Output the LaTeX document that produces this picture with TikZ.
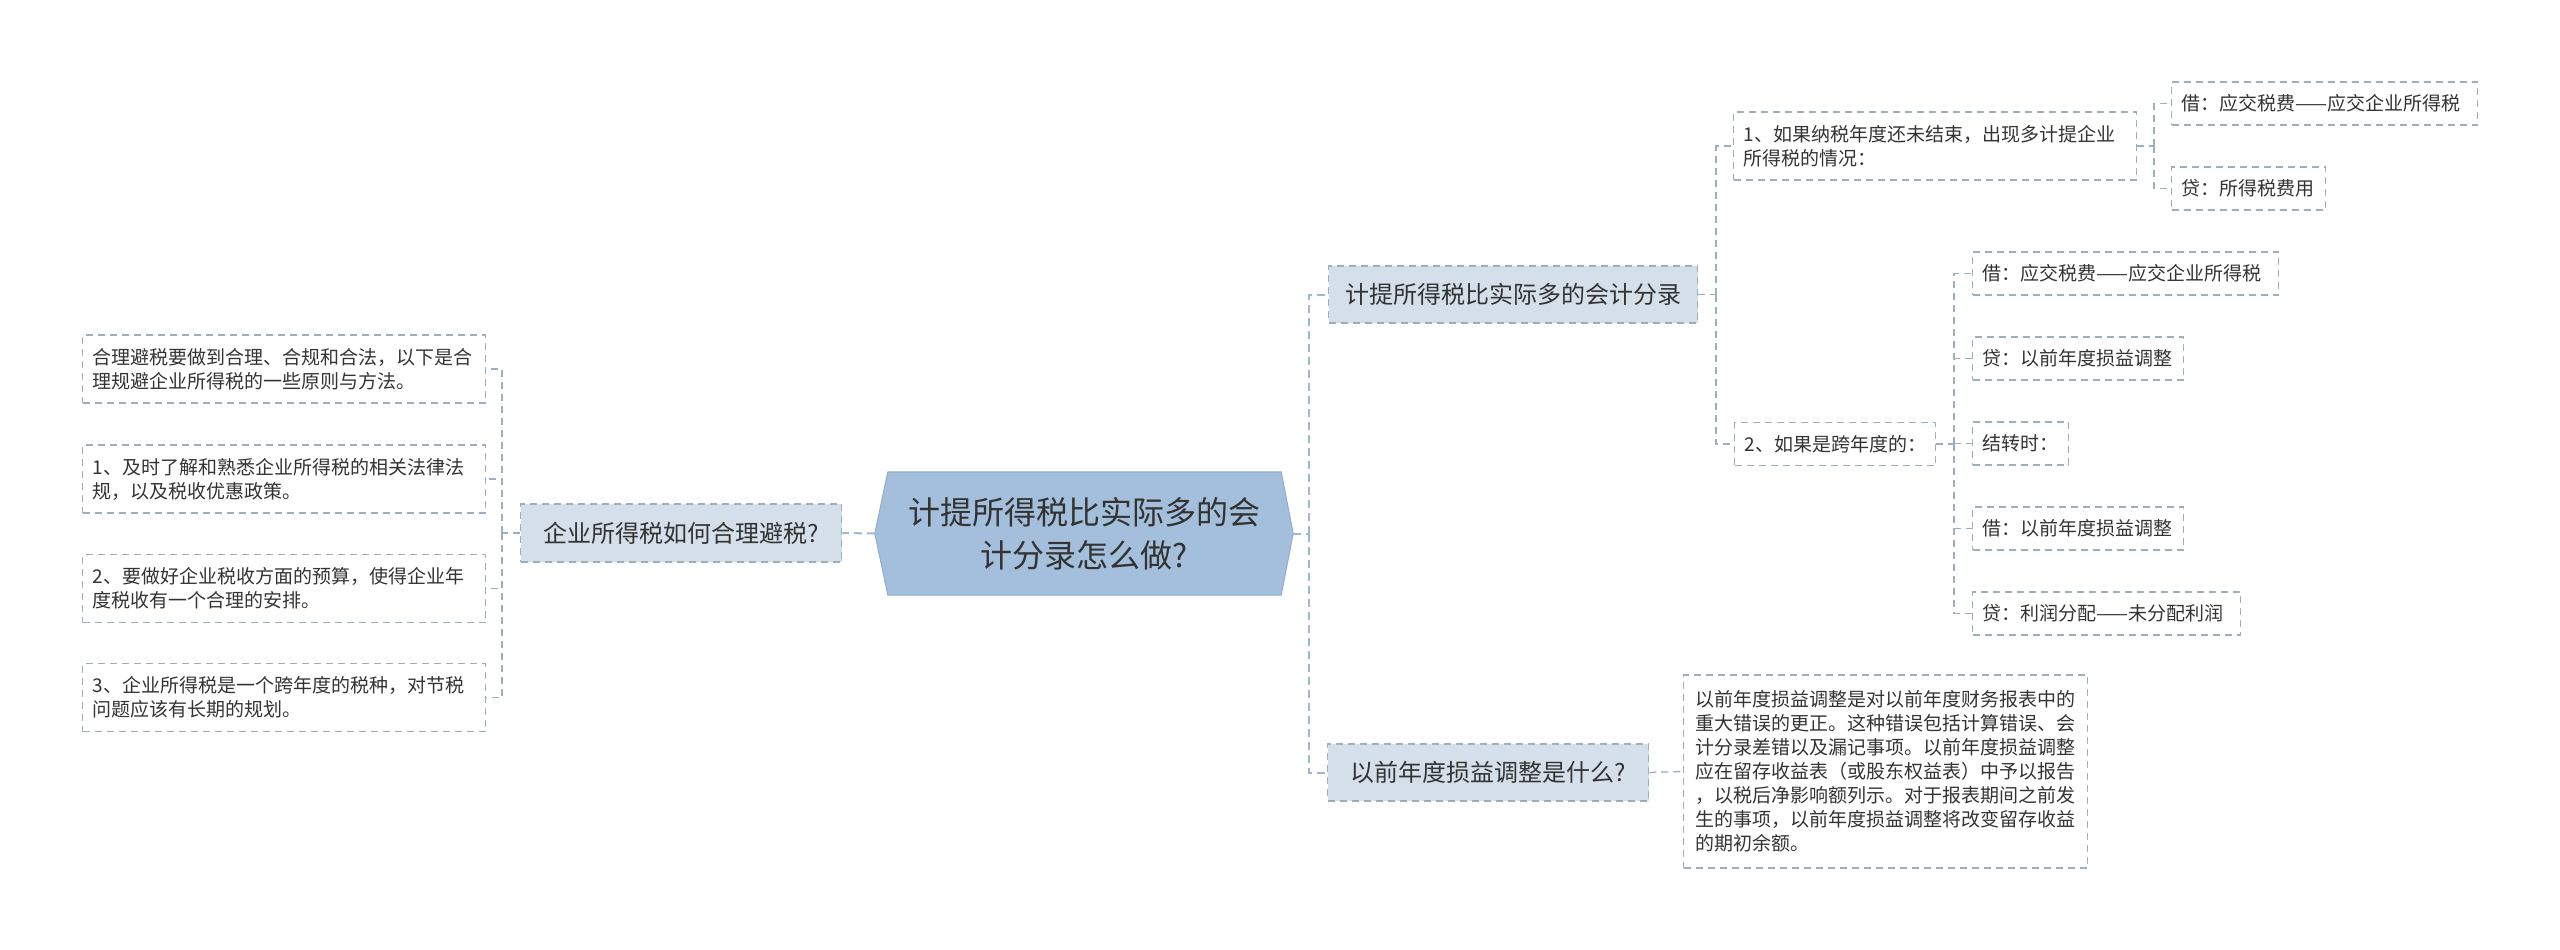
\documentclass[tikz,border=0pt]{standalone}
\usepackage{fontspec}
\newfontfamily\cjk{Noto Sans CJK SC}
\usetikzlibrary{calc,backgrounds}
\definecolor{rootfill}{HTML}{A3BFDB}
\definecolor{rootline}{HTML}{8FAECE}
\definecolor{brfill}{HTML}{D4DFEA}
\definecolor{bordc}{HTML}{9DAEBF}
\definecolor{maincol}{HTML}{9DB8D5}
\definecolor{txtc}{HTML}{333333}
\tikzset{
  leaf/.style={draw=bordc, dash pattern=on 7pt off 5pt, line width=1.3pt,
    font=\cjk\fontsize{19}{24}\selectfont, text=txtc, anchor=west,
    inner xsep=10pt, inner ysep=0pt, minimum height=43pt, align=left},
  branch/.style={draw=bordc, fill=brfill, dash pattern=on 7pt off 5pt, line width=1.3pt,
    font=\cjk\fontsize{24}{30}\selectfont, text=txtc, anchor=west,
    inner sep=0pt, minimum height=57pt, align=center},
  conn/.style={draw=bordc, dash pattern=on 7pt off 5pt, line width=1.3pt},
  mainconn/.style={draw=maincol, dash pattern=on 8pt off 5pt, line width=2pt}
}
\begin{document}
\begin{tikzpicture}[x=1pt,y=-1pt]
\useasboundingbox (0,0) rectangle (2560,950);
% root
\node[font=\cjk\fontsize{32}{43}\selectfont, text=txtc, minimum width=418pt, minimum height=123pt, inner sep=0pt, align=center] (root) at (1084,533.5) {计提所得税比实际多的会\\计分录怎么做?};
\begin{scope}[on background layer]
\fill[rootfill, draw=rootline, line width=1pt] (root.west) -- ($(root.north west)+(13,0)$) -- ($(root.north east)+(-12,0)$) -- (root.east) -- ($(root.south east)+(-12,0)$) -- ($(root.south west)+(13,0)$) -- cycle;
\end{scope}
% left
\node[branch, minimum width=321pt, minimum height=58pt] (lb) at (520,533) {企业所得税如何合理避税?};
\node[leaf, text width=383pt, minimum height=68pt] (la) at (82,369) {合理避税要做到合理、合规和合法，以下是合\\理规避企业所得税的一些原则与方法。};
\node[leaf, text width=383pt, minimum height=68pt] (lbb) at (82,479) {1、及时了解和熟悉企业所得税的相关法律法\\规，以及税收优惠政策。};
\node[leaf, text width=383pt, minimum height=68pt] (lc) at (82,588.5) {2、要做好企业税收方面的预算，使得企业年\\度税收有一个合理的安排。};
\node[leaf, text width=383pt, minimum height=68pt] (ld) at (82,697.5) {3、企业所得税是一个跨年度的税种，对节税\\问题应该有长期的规划。};
% right branches
\node[branch, minimum width=369pt] (b1) at (1328,294.5) {计提所得税比实际多的会计分录};
\node[branch, minimum width=321pt] (b2) at (1327,772.5) {以前年度损益调整是什么?};
\node[leaf, text width=380pt, inner xsep=12pt, minimum height=193pt] (t2) at (1683,771.5) {以前年度损益调整是对以前年度财务报表中的\\重大错误的更正。这种错误包括计算错误、会\\计分录差错以及漏记事项。以前年度损益调整\\应在留存收益表（或股东权益表）中予以报告\\，以税后净影响额列示。对于报表期间之前发\\生的事项，以前年度损益调整将改变留存收益\\的期初余额。};
\node[leaf, text width=383pt, minimum height=68pt] (n1) at (1733,146) {1、如果纳税年度还未结束，出现多计提企业\\所得税的情况：};
\node[leaf, text width=181pt] (n2) at (1734,444) {2、如果是跨年度的：};
\node[leaf, text width=286pt] (l1a) at (2171,103.5) {借：应交税费——应交企业所得税};
\node[leaf, text width=134pt] (l1b) at (2171,188.5) {贷：所得税费用};
\node[leaf, text width=286pt] (l2a) at (1972,273.5) {借：应交税费——应交企业所得税};
\node[leaf, text width=191pt] (l2b) at (1972,358.5) {贷：以前年度损益调整};
\node[leaf, text width=76pt] (l2c) at (1972,443.5) {结转时：};
\node[leaf, text width=191pt] (l2d) at (1972,528.5) {借：以前年度损益调整};
\node[leaf, text width=248pt] (l2e) at (1972,613.5) {贷：利润分配——未分配利润};
% connectors left
\draw[mainconn] (root.west) -- (lb.east);
\coordinate (ls) at (502,533);
\draw[conn] (lb.west) -- (ls);
\draw[conn] (ls) |- (la.east);
\draw[conn] (ls) |- (lbb.east);
\draw[conn] (ls) |- (lc.east);
\draw[conn] (ls) |- (ld.east);
% connectors right
\coordinate (rs) at (1309,533.5);
\draw[mainconn] (root.east) -- (rs);
\draw[mainconn] (rs) |- (b1.west);
\draw[mainconn] (rs) |- (b2.west);
\draw[conn] (b2.east) -- (t2.west);
\coordinate (s1) at (1716,294.5);
\draw[conn] (b1.east) -- (s1);
\draw[conn] (s1) |- (n1.west);
\draw[conn] (s1) |- (n2.west);
\coordinate (s11) at (2154,146);
\draw[conn] (n1.east) -- (s11);
\draw[conn] (s11) |- (l1a.west);
\draw[conn] (s11) |- (l1b.west);
\coordinate (s2) at (1954,444);
\draw[conn] (n2.east) -- (s2);
\draw[conn] (s2) |- (l2a.west);
\draw[conn] (s2) |- (l2b.west);
\draw[conn] (s2) |- (l2c.west);
\draw[conn] (s2) |- (l2d.west);
\draw[conn] (s2) |- (l2e.west);
\end{tikzpicture}
\end{document}
